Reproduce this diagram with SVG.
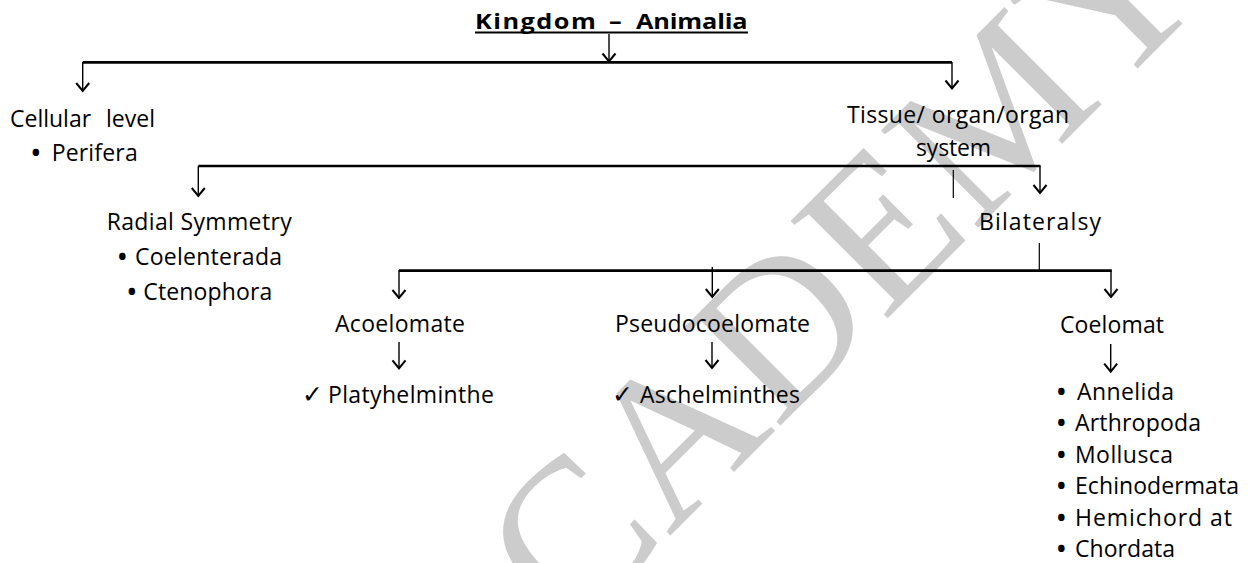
<svg xmlns="http://www.w3.org/2000/svg" width="1249" height="563" viewBox="0 0 1249 563">
  <style>
    .t { font-family: "Open Sans", "Liberation Sans", sans-serif; font-size: 23px; fill: #000; }
    .bl { font-weight: bold; }
    .ck { font-family: "DejaVu Sans", sans-serif; font-size: 25px; }
    .title { font-family: "Open Sans", "Liberation Sans", sans-serif; font-size: 22px; font-weight: bold; fill: #000; }
    .ul { stroke: #000; stroke-width: 2; }
    .bar { stroke: #000; stroke-width: 2.7; fill: none; }
    .stem { stroke: #000; stroke-width: 1.4; fill: none; marker-end: url(#chev); }
    .tick { stroke: #000; stroke-width: 1.2; fill: none; }
    .wm { font-family: "Liberation Serif", serif; font-size: 210px; fill: #cccccc; text-anchor: middle; }
  </style>
  <defs>
    <marker id="chev" markerUnits="userSpaceOnUse" viewBox="-10 -8 12 16" refX="0" refY="0" markerWidth="12" markerHeight="16" orient="auto" overflow="visible">
      <path d="M-8,-6.5 L0,0 L-8,6.5" fill="none" stroke="#000" stroke-width="2" stroke-linejoin="miter"/>
    </marker>
  </defs>
  <rect width="1249" height="563" fill="#fff"/>
  <g id="watermark">
    <text class="wm" x="0" y="0" transform="translate(838 368) rotate(-45)">ACADEMY</text>
  </g>
  <g id="connectors">
    <line class="bar" x1="82.7" y1="62.3" x2="952" y2="62.3"/>
    <line class="stem" x1="609" y1="34" x2="609" y2="61.5"/>
    <line class="stem" x1="82.7" y1="62" x2="82.7" y2="91"/>
    <line class="stem" x1="952" y1="62" x2="952" y2="88.5"/>
    <line class="bar" x1="198.3" y1="166" x2="1040.5" y2="166"/>
    <line class="stem" x1="198.3" y1="166" x2="198.3" y2="196"/>
    <line class="stem" x1="1040" y1="166" x2="1040" y2="193"/>
    <line class="tick" x1="953.3" y1="170" x2="953.3" y2="198"/>
    <line class="tick" x1="1039.3" y1="243" x2="1039.3" y2="270"/>
    <line class="bar" x1="399" y1="270.7" x2="1111.7" y2="270.7"/>
    <line class="stem" x1="399" y1="270" x2="399" y2="298"/>
    <line class="stem" x1="712.3" y1="267" x2="712.3" y2="297"/>
    <line class="stem" x1="1111" y1="270" x2="1111" y2="297"/>
    <line class="stem" x1="399" y1="342" x2="399" y2="368.3"/>
    <line class="stem" x1="712" y1="342" x2="712" y2="368"/>
    <line class="stem" x1="1110.7" y1="344" x2="1110.7" y2="371.7"/>
  </g>
  <g id="kingdom">
    <text class="title" transform="translate(475 28.5) scale(1.15 1)"><tspan x="0" textLength="105" lengthAdjust="spacing">Kingdom</tspan> <tspan x="116.5">–</tspan> <tspan x="140" textLength="97" lengthAdjust="spacing">Animalia</tspan></text>
    <line class="ul" x1="475" y1="32.6" x2="748" y2="32.6"/>
  </g>
  <g id="cellular">
    <text class="t" y="127"><tspan x="10">Cellular</tspan> <tspan x="106">level</tspan></text>
    <text class="t" y="161"><tspan class="bl" x="31.5">•</tspan><tspan x="51.7" textLength="86" lengthAdjust="spacing">Perifera</tspan></text>
  </g>
  <g id="tissue">
    <text class="t" x="847" y="123.3" textLength="222" lengthAdjust="spacing">Tissue/ organ/organ</text>
    <text class="t" x="916" y="156" textLength="75" lengthAdjust="spacing">system</text>
  </g>
  <g id="radial">
    <text class="t" x="106.7" y="230" textLength="185" lengthAdjust="spacing">Radial Symmetry</text>
    <text class="t" y="265"><tspan class="bl" x="118">•</tspan><tspan x="135" textLength="147" lengthAdjust="spacing">Coelenterada</tspan></text>
    <text class="t" y="300"><tspan class="bl" x="127.5">•</tspan><tspan x="143.3" textLength="129" lengthAdjust="spacing">Ctenophora</tspan></text>
  </g>
  <g id="bilateral">
    <text class="t" x="979" y="230" textLength="122" lengthAdjust="spacing">Bilateralsy</text>
  </g>
  <g id="acoelomate">
    <text class="t" x="335" y="332" textLength="130" lengthAdjust="spacing">Acoelomate</text>
    <text class="t" y="403"><tspan class="ck" x="302">✓</tspan><tspan x="328" textLength="166" lengthAdjust="spacing">Platyhelminthe</tspan></text>
  </g>
  <g id="pseudocoelomate">
    <text class="t" x="615" y="332" textLength="195" lengthAdjust="spacing">Pseudocoelomate</text>
    <text class="t" y="403"><tspan class="ck" x="612">✓</tspan><tspan x="640" textLength="160" lengthAdjust="spacing">Aschelminthes</tspan></text>
  </g>
  <g id="coelomat">
    <text class="t" x="1060" y="332.7" textLength="104" lengthAdjust="spacing">Coelomat</text>
    <text class="t" y="399.5"><tspan class="bl" x="1057">•</tspan><tspan x="1077" textLength="97" lengthAdjust="spacing">Annelida</tspan></text>
    <text class="t" y="431"><tspan class="bl" x="1057">•</tspan><tspan x="1075" textLength="126" lengthAdjust="spacing">Arthropoda</tspan></text>
    <text class="t" y="462.5"><tspan class="bl" x="1057">•</tspan><tspan x="1075" textLength="98" lengthAdjust="spacing">Mollusca</tspan></text>
    <text class="t" y="494"><tspan class="bl" x="1057">•</tspan><tspan x="1075" textLength="164" lengthAdjust="spacing">Echinodermata</tspan></text>
    <text class="t" y="525.5"><tspan class="bl" x="1057">•</tspan><tspan x="1075" textLength="157" lengthAdjust="spacing">Hemichord at</tspan></text>
    <text class="t" y="556.5"><tspan class="bl" x="1057">•</tspan><tspan x="1075" textLength="100" lengthAdjust="spacing">Chordata</tspan></text>
  </g>
</svg>
